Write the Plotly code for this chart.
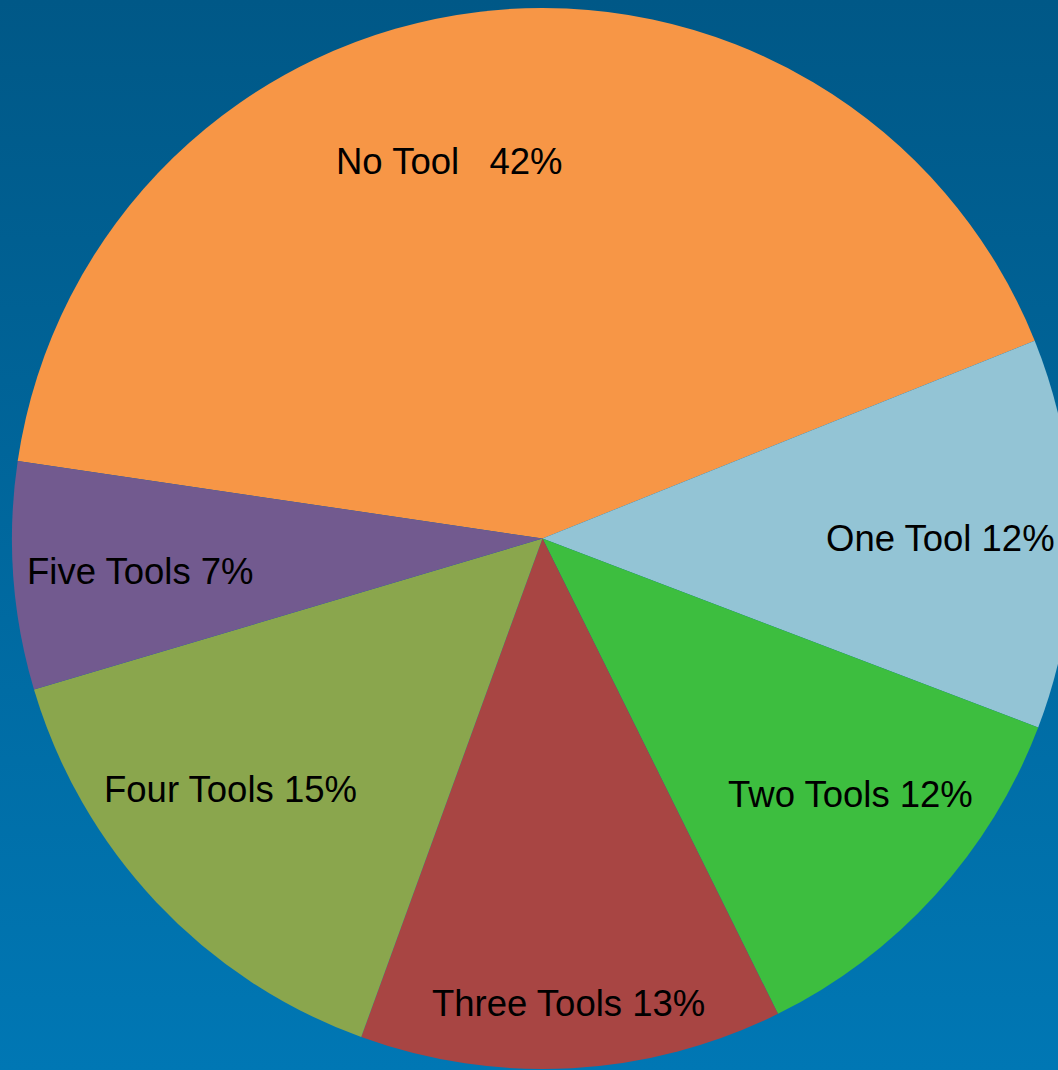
import math
import plotly.graph_objects as go

# ---- data ----
labels = ["No Tool", "One Tool", "Two Tools", "Three Tools", "Four Tools", "Five Tools"]
values = [42, 12, 12, 13, 15, 7]
label_texts = ["No Tool\u00a0\u00a0\u00a042%", "One Tool 12%", "Two Tools 12%",
               "Three Tools 13%", "Four Tools 15%", "Five Tools 7%"]
colors = ["#F79646", "#93C4D5", "#3DBE3F", "#A84543", "#8AA64D", "#725A8F"]

# ---- label placement style ----
label_radius = [0.74, 0.75, 0.75, 0.87, 0.75, 0.76]
label_angle_nudge = [-7, 0, -3, 0, 5, 0]

W, H = 1074, 1070
CX, CY, R = 542.5, 538.5, 530.5
ROTATION = 278.4

fig = go.Figure()

# gradient background
fig.add_trace(go.Scatter(
    x=[0, 1, 1, 0, 0], y=[0, 0, 1, 1, 0], fill="toself", mode="none",
    fillgradient=dict(type="vertical", colorscale=[[0, "#0077B4"], [1, "#005887"]]),
    hoverinfo="skip", showlegend=False,
))

fig.add_trace(go.Pie(
    labels=labels, values=values, sort=False, direction="clockwise",
    rotation=ROTATION, marker=dict(colors=colors, line=dict(width=0)),
    textinfo="none", hoverinfo="label+percent", showlegend=False,
    domain=dict(x=[(CX - R) / W, (CX + R) / W], y=[(H - CY - R) / H, (H - CY + R) / H]),
))

total = sum(values)
cum = 0.0
for i, v in enumerate(values):
    mid = ROTATION + (cum + v / 2) / total * 360 + label_angle_nudge[i]
    cum += v
    a = math.radians(mid)
    px = CX + label_radius[i] * R * math.sin(a)
    py = CY - label_radius[i] * R * math.cos(a)
    fig.add_annotation(
        x=px / W, y=1 - py / H, xref="paper", yref="paper",
        text=label_texts[i], showarrow=False, yshift=-4,
        font=dict(family="Liberation Sans, Arial, sans-serif", size=36.5, color="#000000"),
        xanchor="center", yanchor="middle",
    )

fig.update_layout(
    width=W, height=H, margin=dict(l=0, r=0, t=0, b=0),
    paper_bgcolor="#0068A0", plot_bgcolor="rgba(0,0,0,0)",
    xaxis=dict(visible=False, range=[0, 1], domain=[0, 1], fixedrange=True),
    yaxis=dict(visible=False, range=[0, 1], domain=[0, 1], fixedrange=True),
)

fig.write_html("out.html", post_script="document.body.style.overflow='hidden';document.body.style.margin='0';")
